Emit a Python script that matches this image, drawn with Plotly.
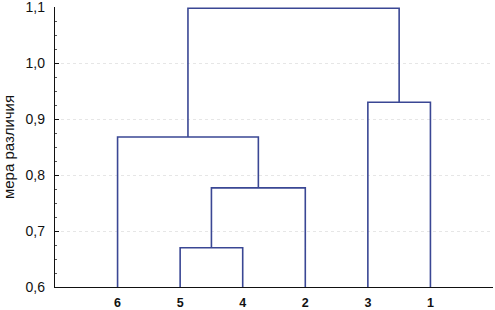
import plotly.graph_objects as go

# leaf order along the x axis
leaf_labels = ["6", "5", "4", "2", "3", "1"]
# merges: (left member, right member, height) — members are leaf labels or merge indices "m0".."m4"
merge_left = ["5", "m0", "6", "3", "m2"]
merge_right = ["4", "2", "m1", "1", "m3"]
merge_height = [0.670, 0.777, 0.868, 0.930, 1.098]

pos = {lab: i + 1 for i, lab in enumerate(leaf_labels)}
hgt = {lab: 0.6 for lab in leaf_labels}

xs, ys = [], []
for k, (a, b, h) in enumerate(zip(merge_left, merge_right, merge_height)):
    xa, xb = pos[a], pos[b]
    ya, yb = hgt[a], hgt[b]
    xs += [xa, xa, xb, xb, None]
    ys += [ya, h, h, yb, None]
    name = f"m{k}"
    pos[name] = (xa + xb) / 2
    hgt[name] = h

fig = go.Figure()
fig.add_trace(go.Scatter(x=xs, y=ys, mode="lines",
                         line=dict(color="#3a4794", width=1.6),
                         cliponaxis=False, hoverinfo="skip", showlegend=False))

fig.update_layout(
    width=495, height=310,
    margin=dict(l=55, r=2, t=7, b=23),
    paper_bgcolor="white", plot_bgcolor="white",
    separators=",.",
    font=dict(family="Liberation Sans, Arial, sans-serif", color="#111111"),
    showlegend=False,
)
fig.update_xaxes(
    range=[0, 7],
    tickvals=list(range(1, len(leaf_labels) + 1)),
    ticktext=[f"<b>{t}</b>" for t in leaf_labels],
    tickfont=dict(size=12.5, color="#111111"),
    ticks="", showline=True, linecolor="#111111", linewidth=1.2,
    showgrid=False, zeroline=False, ticklabelstandoff=4, automargin=False,
)
fig.update_yaxes(
    range=[0.6, 1.1001],
    tickmode="linear", tick0=0.6, dtick=0.1, tickformat=".1f",
    tickfont=dict(size=14, color="#111111"),
    ticklabeloverflow="allow", ticklabelstandoff=6,
    ticks="inside", ticklen=4, tickcolor="#111111", tickwidth=1,
    minor=dict(tickmode="linear", tick0=0.6, dtick=0.025, ticks="inside", ticklen=2,
               tickcolor="#555555", tickwidth=1, showgrid=False),
    showline=True, linecolor="#111111", linewidth=1.2,
    showgrid=True, gridcolor="#e6e6e6", griddash="dot", gridwidth=1,
    zeroline=False, automargin=False,
    title=dict(text="мера различия", font=dict(size=15, color="#111111"), standoff=8),
)
fig.write_html("out.html", config={"displayModeBar": False, "staticPlot": True},
               post_script="document.body.style.margin='0';document.body.style.padding='0';")
